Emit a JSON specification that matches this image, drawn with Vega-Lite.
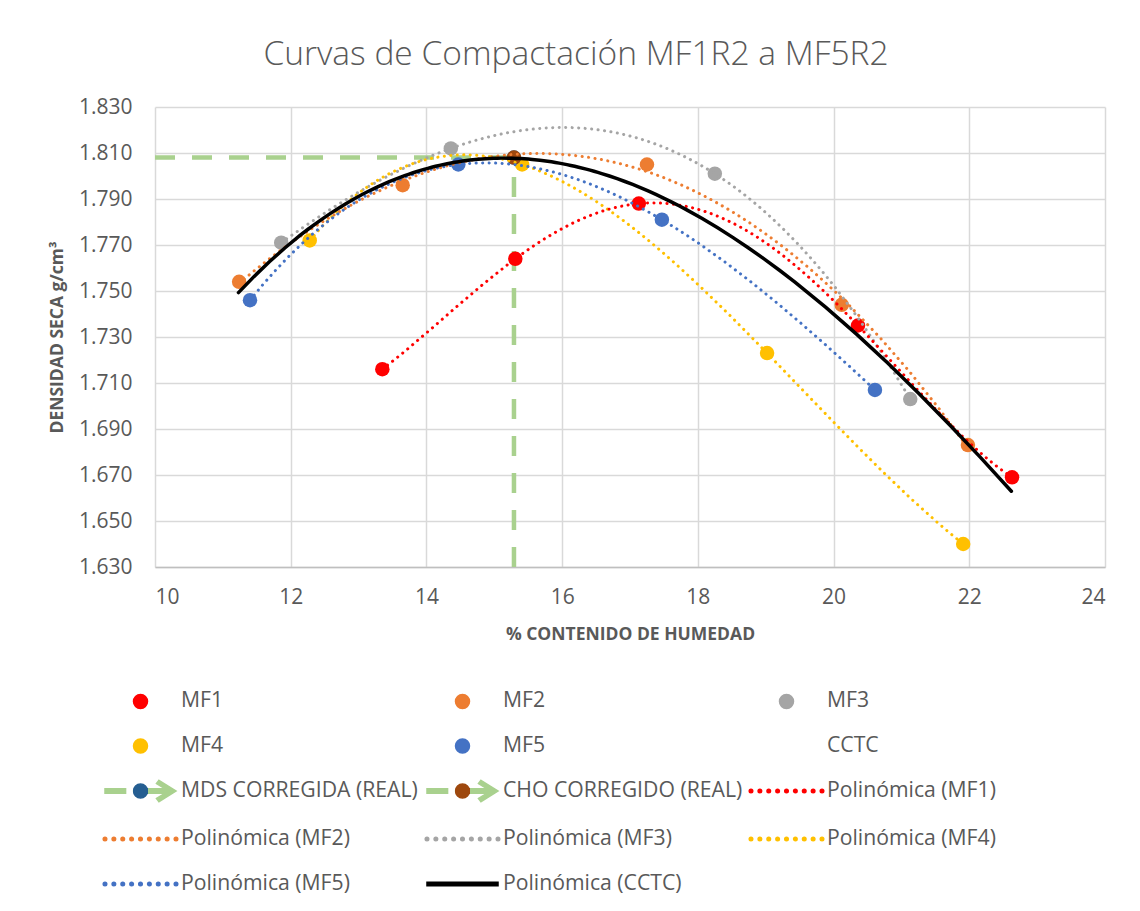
{
  "$schema": "https://vega.github.io/schema/vega-lite/v6.json",
  "width": 950,
  "height": 460,
  "autosize": "none",
  "padding": {"left": 155, "top": 107, "right": 35, "bottom": 344},
  "background": "white",
  "title": {"text": "Curvas de Compactación MF1R2 a MF5R2", "anchor": "middle", "frame": "group", "dx": -54, "offset": 24, "font": "Open Sans", "fontSize": 33.5, "fontWeight": 300, "color": "#595959"},
  "datasets": {
    "obs": [
      {"series": "MF1", "trend": "Polinómica (MF1)", "x": 13.35, "y": 1.716},
      {"series": "MF1", "trend": "Polinómica (MF1)", "x": 15.31, "y": 1.764},
      {"series": "MF1", "trend": "Polinómica (MF1)", "x": 17.13, "y": 1.788},
      {"series": "MF1", "trend": "Polinómica (MF1)", "x": 20.36, "y": 1.735},
      {"series": "MF1", "trend": "Polinómica (MF1)", "x": 22.63, "y": 1.669},
      {"series": "MF2", "trend": "Polinómica (MF2)", "x": 11.24, "y": 1.754},
      {"series": "MF2", "trend": "Polinómica (MF2)", "x": 13.65, "y": 1.796},
      {"series": "MF2", "trend": "Polinómica (MF2)", "x": 17.25, "y": 1.805},
      {"series": "MF2", "trend": "Polinómica (MF2)", "x": 20.12, "y": 1.744},
      {"series": "MF2", "trend": "Polinómica (MF2)", "x": 21.98, "y": 1.683},
      {"series": "MF3", "trend": "Polinómica (MF3)", "x": 11.86, "y": 1.771},
      {"series": "MF3", "trend": "Polinómica (MF3)", "x": 14.36, "y": 1.812},
      {"series": "MF3", "trend": "Polinómica (MF3)", "x": 18.25, "y": 1.801},
      {"series": "MF3", "trend": "Polinómica (MF3)", "x": 21.13, "y": 1.703},
      {"series": "MF4", "trend": "Polinómica (MF4)", "x": 12.28, "y": 1.772},
      {"series": "MF4", "trend": "Polinómica (MF4)", "x": 15.41, "y": 1.805},
      {"series": "MF4", "trend": "Polinómica (MF4)", "x": 19.02, "y": 1.723},
      {"series": "MF4", "trend": "Polinómica (MF4)", "x": 21.91, "y": 1.640},
      {"series": "MF5", "trend": "Polinómica (MF5)", "x": 11.40, "y": 1.746},
      {"series": "MF5", "trend": "Polinómica (MF5)", "x": 14.47, "y": 1.805},
      {"series": "MF5", "trend": "Polinómica (MF5)", "x": 17.47, "y": 1.781},
      {"series": "MF5", "trend": "Polinómica (MF5)", "x": 20.61, "y": 1.707}
    ],
    "ref": [
      {"series": "MDS CORREGIDA (REAL)", "x": 15.29, "y": 1.808},
      {"series": "CHO CORREGIDO (REAL)", "x": 15.29, "y": 1.808}
    ],
    "guides": [
      {"g": "MDS", "x": 10, "y": 1.808},
      {"g": "MDS", "x": 15.29, "y": 1.808},
      {"g": "CHO", "x": 15.29, "y": 1.63},
      {"g": "CHO", "x": 15.29, "y": 1.808}
    ],
    "cctc": [
      {"trend": "Polinómica (CCTC)", "x": 11.23, "y": 1.7475},
      {"trend": "Polinómica (CCTC)", "x": 12.0, "y": 1.7730},
      {"trend": "Polinómica (CCTC)", "x": 12.63, "y": 1.7860},
      {"trend": "Polinómica (CCTC)", "x": 13.32, "y": 1.7950},
      {"trend": "Polinómica (CCTC)", "x": 13.99, "y": 1.8019},
      {"trend": "Polinómica (CCTC)", "x": 14.54, "y": 1.8062},
      {"trend": "Polinómica (CCTC)", "x": 15.28, "y": 1.8084},
      {"trend": "Polinómica (CCTC)", "x": 15.99, "y": 1.8065},
      {"trend": "Polinómica (CCTC)", "x": 16.75, "y": 1.7990},
      {"trend": "Polinómica (CCTC)", "x": 17.98, "y": 1.7815},
      {"trend": "Polinómica (CCTC)", "x": 19.21, "y": 1.7580},
      {"trend": "Polinómica (CCTC)", "x": 20.0, "y": 1.7403},
      {"trend": "Polinómica (CCTC)", "x": 20.98, "y": 1.7159},
      {"trend": "Polinómica (CCTC)", "x": 21.99, "y": 1.6830},
      {"trend": "Polinómica (CCTC)", "x": 22.62, "y": 1.6620}
    ]
  },
  "encoding": {
    "x": {"field": "x", "type": "quantitative", "scale": {"domain": [10, 24], "nice": false, "zero": false},
      "axis": {"values": [10, 12, 14, 16, 18, 20, 22, 24], "title": "% CONTENIDO DE HUMEDAD"}},
    "y": {"field": "y", "type": "quantitative", "scale": {"domain": [1.63, 1.83], "nice": false, "zero": false},
      "axis": {"values": [1.63, 1.65, 1.67, 1.69, 1.71, 1.73, 1.75, 1.77, 1.79, 1.81, 1.83], "format": ".3f", "title": "DENSIDAD SECA g/cm³"}}
  },
  "layer": [
    {
      "data": {"name": "guides"},
      "mark": {"type": "line", "color": "#A9D18E", "strokeWidth": 4.5, "strokeDash": [20, 17], "clip": true},
      "encoding": {"detail": {"field": "g"}}
    },
    {
      "data": {"name": "ref"},
      "mark": {"type": "point", "filled": true, "opacity": 0, "size": 10},
      "encoding": {
        "color": {"field": "series", "type": "nominal",
          "scale": {"domain": ["MF1","MF2","MF3","MF4","MF5","CCTC","MDS CORREGIDA (REAL)","CHO CORREGIDO (REAL)","Polinómica (MF1)","Polinómica (MF2)","Polinómica (MF3)","Polinómica (MF4)","Polinómica (MF5)","Polinómica (CCTC)"],
            "range": ["#FF0000","#ED7D31","#A5A5A5","#FFC000","#4472C4","transparent",
              {"expr": "{gradient: 'linear', x1: 0, y1: 0, x2: 1, y2: 0, stops: [{offset: 0, color: '#A9D18E'}, {offset: 0.4, color: '#A9D18E'}, {offset: 0.4, color: '#255E91'}, {offset: 0.6, color: '#255E91'}, {offset: 0.6, color: '#A9D18E'}, {offset: 1, color: '#A9D18E'}]}"},
              {"expr": "{gradient: 'linear', x1: 0, y1: 0, x2: 1, y2: 0, stops: [{offset: 0, color: '#A9D18E'}, {offset: 0.4, color: '#A9D18E'}, {offset: 0.4, color: '#9E480E'}, {offset: 0.6, color: '#9E480E'}, {offset: 0.6, color: '#A9D18E'}, {offset: 1, color: '#A9D18E'}]}"},
              "#FF0000","#ED7D31","#A5A5A5","#FFC000","#4472C4","#000000"]},
          "legend": {
            "title": null, "orient": "none", "direction": "horizontal", "legendX": -48.5, "legendY": 560, "columns": 3, "gridAlign": "each",
            "columnPadding": 3, "rowPadding": 0, "padding": 0, "symbolSize": 4356, "labelOffset": 6.5, "symbolOpacity": 1,
            "labelFont": "Open Sans", "labelFontSize": 21.2, "labelColor": "#595959", "labelLimit": 500
          }
        },
        "shape": {"field": "series", "type": "nominal",
          "scale": {"domain": ["MF1","MF2","MF3","MF4","MF5","CCTC","MDS CORREGIDA (REAL)","CHO CORREGIDO (REAL)","Polinómica (MF1)","Polinómica (MF2)","Polinómica (MF3)","Polinómica (MF4)","Polinómica (MF5)","Polinómica (CCTC)"],
            "range": [
              "M0.212,0C0.212,0.117,0.117,0.212,0,0.212C-0.117,0.212,-0.212,0.117,-0.212,0C-0.212,-0.117,-0.117,-0.212,0,-0.212C0.117,-0.212,0.212,-0.117,0.212,0Z",
              "M0.212,0C0.212,0.117,0.117,0.212,0,0.212C-0.117,0.212,-0.212,0.117,-0.212,0C-0.212,-0.117,-0.117,-0.212,0,-0.212C0.117,-0.212,0.212,-0.117,0.212,0Z",
              "M0.212,0C0.212,0.117,0.117,0.212,0,0.212C-0.117,0.212,-0.212,0.117,-0.212,0C-0.212,-0.117,-0.117,-0.212,0,-0.212C0.117,-0.212,0.212,-0.117,0.212,0Z",
              "M0.212,0C0.212,0.117,0.117,0.212,0,0.212C-0.117,0.212,-0.212,0.117,-0.212,0C-0.212,-0.117,-0.117,-0.212,0,-0.212C0.117,-0.212,0.212,-0.117,0.212,0Z",
              "M0.212,0C0.212,0.117,0.117,0.212,0,0.212C-0.117,0.212,-0.212,0.117,-0.212,0C-0.212,-0.117,-0.117,-0.212,0,-0.212C0.117,-0.212,0.212,-0.117,0.212,0Z",
              "M0,0L0.001,0Z",
              "M-1.076,-0.065H-0.452V0.065H-1.076ZM0.212,0C0.212,0.117,0.117,0.212,0,0.212C-0.117,0.212,-0.212,0.117,-0.212,0C-0.212,-0.117,-0.117,-0.212,0,-0.212C0.117,-0.212,0.212,-0.117,0.212,0ZM0.204,-0.065H0.861V0.065H0.204ZM0.559,-0.323L1.076,0L0.559,0.323L0.484,0.226L0.861,0L0.484,-0.226Z",
              "M-1.076,-0.065H-0.452V0.065H-1.076ZM0.212,0C0.212,0.117,0.117,0.212,0,0.212C-0.117,0.212,-0.212,0.117,-0.212,0C-0.212,-0.117,-0.117,-0.212,0,-0.212C0.117,-0.212,0.212,-0.117,0.212,0ZM0.204,-0.065H0.861V0.065H0.204ZM0.559,-0.323L1.076,0L0.559,0.323L0.484,0.226L0.861,0L0.484,-0.226Z",
              "M-1.022,0c0,0.0297,-0.0242,0.054,-0.054,0.054c-0.0297,0,-0.054,-0.0242,-0.054,-0.054c0,-0.0297,0.0242,-0.054,0.054,-0.054c0.0297,0,0.054,0.0242,0.054,0.054ZM-0.753,0c0,0.0297,-0.0242,0.054,-0.054,0.054c-0.0297,0,-0.054,-0.0242,-0.054,-0.054c0,-0.0297,0.0242,-0.054,0.054,-0.054c0.0297,0,0.054,0.0242,0.054,0.054ZM-0.484,0c0,0.0297,-0.0242,0.054,-0.054,0.054c-0.0297,0,-0.054,-0.0242,-0.054,-0.054c0,-0.0297,0.0242,-0.054,0.054,-0.054c0.0297,0,0.054,0.0242,0.054,0.054ZM-0.215,0c0,0.0297,-0.0242,0.054,-0.054,0.054c-0.0297,0,-0.054,-0.0242,-0.054,-0.054c0,-0.0297,0.0242,-0.054,0.054,-0.054c0.0297,0,0.054,0.0242,0.054,0.054ZM0.054,0c0,0.0297,-0.0242,0.054,-0.054,0.054c-0.0297,0,-0.054,-0.0242,-0.054,-0.054c0,-0.0297,0.0242,-0.054,0.054,-0.054c0.0297,0,0.054,0.0242,0.054,0.054ZM0.323,0c0,0.0297,-0.0242,0.054,-0.054,0.054c-0.0297,0,-0.054,-0.0242,-0.054,-0.054c0,-0.0297,0.0242,-0.054,0.054,-0.054c0.0297,0,0.054,0.0242,0.054,0.054ZM0.592,0c0,0.0297,-0.0242,0.054,-0.054,0.054c-0.0297,0,-0.054,-0.0242,-0.054,-0.054c0,-0.0297,0.0242,-0.054,0.054,-0.054c0.0297,0,0.054,0.0242,0.054,0.054ZM0.861,0c0,0.0297,-0.0242,0.054,-0.054,0.054c-0.0297,0,-0.054,-0.0242,-0.054,-0.054c0,-0.0297,0.0242,-0.054,0.054,-0.054c0.0297,0,0.054,0.0242,0.054,0.054ZM1.13,0c0,0.0297,-0.0242,0.054,-0.054,0.054c-0.0297,0,-0.054,-0.0242,-0.054,-0.054c0,-0.0297,0.0242,-0.054,0.054,-0.054c0.0297,0,0.054,0.0242,0.054,0.054Z",
              "M-1.022,0c0,0.0297,-0.0242,0.054,-0.054,0.054c-0.0297,0,-0.054,-0.0242,-0.054,-0.054c0,-0.0297,0.0242,-0.054,0.054,-0.054c0.0297,0,0.054,0.0242,0.054,0.054ZM-0.753,0c0,0.0297,-0.0242,0.054,-0.054,0.054c-0.0297,0,-0.054,-0.0242,-0.054,-0.054c0,-0.0297,0.0242,-0.054,0.054,-0.054c0.0297,0,0.054,0.0242,0.054,0.054ZM-0.484,0c0,0.0297,-0.0242,0.054,-0.054,0.054c-0.0297,0,-0.054,-0.0242,-0.054,-0.054c0,-0.0297,0.0242,-0.054,0.054,-0.054c0.0297,0,0.054,0.0242,0.054,0.054ZM-0.215,0c0,0.0297,-0.0242,0.054,-0.054,0.054c-0.0297,0,-0.054,-0.0242,-0.054,-0.054c0,-0.0297,0.0242,-0.054,0.054,-0.054c0.0297,0,0.054,0.0242,0.054,0.054ZM0.054,0c0,0.0297,-0.0242,0.054,-0.054,0.054c-0.0297,0,-0.054,-0.0242,-0.054,-0.054c0,-0.0297,0.0242,-0.054,0.054,-0.054c0.0297,0,0.054,0.0242,0.054,0.054ZM0.323,0c0,0.0297,-0.0242,0.054,-0.054,0.054c-0.0297,0,-0.054,-0.0242,-0.054,-0.054c0,-0.0297,0.0242,-0.054,0.054,-0.054c0.0297,0,0.054,0.0242,0.054,0.054ZM0.592,0c0,0.0297,-0.0242,0.054,-0.054,0.054c-0.0297,0,-0.054,-0.0242,-0.054,-0.054c0,-0.0297,0.0242,-0.054,0.054,-0.054c0.0297,0,0.054,0.0242,0.054,0.054ZM0.861,0c0,0.0297,-0.0242,0.054,-0.054,0.054c-0.0297,0,-0.054,-0.0242,-0.054,-0.054c0,-0.0297,0.0242,-0.054,0.054,-0.054c0.0297,0,0.054,0.0242,0.054,0.054ZM1.13,0c0,0.0297,-0.0242,0.054,-0.054,0.054c-0.0297,0,-0.054,-0.0242,-0.054,-0.054c0,-0.0297,0.0242,-0.054,0.054,-0.054c0.0297,0,0.054,0.0242,0.054,0.054Z",
              "M-1.022,0c0,0.0297,-0.0242,0.054,-0.054,0.054c-0.0297,0,-0.054,-0.0242,-0.054,-0.054c0,-0.0297,0.0242,-0.054,0.054,-0.054c0.0297,0,0.054,0.0242,0.054,0.054ZM-0.753,0c0,0.0297,-0.0242,0.054,-0.054,0.054c-0.0297,0,-0.054,-0.0242,-0.054,-0.054c0,-0.0297,0.0242,-0.054,0.054,-0.054c0.0297,0,0.054,0.0242,0.054,0.054ZM-0.484,0c0,0.0297,-0.0242,0.054,-0.054,0.054c-0.0297,0,-0.054,-0.0242,-0.054,-0.054c0,-0.0297,0.0242,-0.054,0.054,-0.054c0.0297,0,0.054,0.0242,0.054,0.054ZM-0.215,0c0,0.0297,-0.0242,0.054,-0.054,0.054c-0.0297,0,-0.054,-0.0242,-0.054,-0.054c0,-0.0297,0.0242,-0.054,0.054,-0.054c0.0297,0,0.054,0.0242,0.054,0.054ZM0.054,0c0,0.0297,-0.0242,0.054,-0.054,0.054c-0.0297,0,-0.054,-0.0242,-0.054,-0.054c0,-0.0297,0.0242,-0.054,0.054,-0.054c0.0297,0,0.054,0.0242,0.054,0.054ZM0.323,0c0,0.0297,-0.0242,0.054,-0.054,0.054c-0.0297,0,-0.054,-0.0242,-0.054,-0.054c0,-0.0297,0.0242,-0.054,0.054,-0.054c0.0297,0,0.054,0.0242,0.054,0.054ZM0.592,0c0,0.0297,-0.0242,0.054,-0.054,0.054c-0.0297,0,-0.054,-0.0242,-0.054,-0.054c0,-0.0297,0.0242,-0.054,0.054,-0.054c0.0297,0,0.054,0.0242,0.054,0.054ZM0.861,0c0,0.0297,-0.0242,0.054,-0.054,0.054c-0.0297,0,-0.054,-0.0242,-0.054,-0.054c0,-0.0297,0.0242,-0.054,0.054,-0.054c0.0297,0,0.054,0.0242,0.054,0.054ZM1.13,0c0,0.0297,-0.0242,0.054,-0.054,0.054c-0.0297,0,-0.054,-0.0242,-0.054,-0.054c0,-0.0297,0.0242,-0.054,0.054,-0.054c0.0297,0,0.054,0.0242,0.054,0.054Z",
              "M-1.022,0c0,0.0297,-0.0242,0.054,-0.054,0.054c-0.0297,0,-0.054,-0.0242,-0.054,-0.054c0,-0.0297,0.0242,-0.054,0.054,-0.054c0.0297,0,0.054,0.0242,0.054,0.054ZM-0.753,0c0,0.0297,-0.0242,0.054,-0.054,0.054c-0.0297,0,-0.054,-0.0242,-0.054,-0.054c0,-0.0297,0.0242,-0.054,0.054,-0.054c0.0297,0,0.054,0.0242,0.054,0.054ZM-0.484,0c0,0.0297,-0.0242,0.054,-0.054,0.054c-0.0297,0,-0.054,-0.0242,-0.054,-0.054c0,-0.0297,0.0242,-0.054,0.054,-0.054c0.0297,0,0.054,0.0242,0.054,0.054ZM-0.215,0c0,0.0297,-0.0242,0.054,-0.054,0.054c-0.0297,0,-0.054,-0.0242,-0.054,-0.054c0,-0.0297,0.0242,-0.054,0.054,-0.054c0.0297,0,0.054,0.0242,0.054,0.054ZM0.054,0c0,0.0297,-0.0242,0.054,-0.054,0.054c-0.0297,0,-0.054,-0.0242,-0.054,-0.054c0,-0.0297,0.0242,-0.054,0.054,-0.054c0.0297,0,0.054,0.0242,0.054,0.054ZM0.323,0c0,0.0297,-0.0242,0.054,-0.054,0.054c-0.0297,0,-0.054,-0.0242,-0.054,-0.054c0,-0.0297,0.0242,-0.054,0.054,-0.054c0.0297,0,0.054,0.0242,0.054,0.054ZM0.592,0c0,0.0297,-0.0242,0.054,-0.054,0.054c-0.0297,0,-0.054,-0.0242,-0.054,-0.054c0,-0.0297,0.0242,-0.054,0.054,-0.054c0.0297,0,0.054,0.0242,0.054,0.054ZM0.861,0c0,0.0297,-0.0242,0.054,-0.054,0.054c-0.0297,0,-0.054,-0.0242,-0.054,-0.054c0,-0.0297,0.0242,-0.054,0.054,-0.054c0.0297,0,0.054,0.0242,0.054,0.054ZM1.13,0c0,0.0297,-0.0242,0.054,-0.054,0.054c-0.0297,0,-0.054,-0.0242,-0.054,-0.054c0,-0.0297,0.0242,-0.054,0.054,-0.054c0.0297,0,0.054,0.0242,0.054,0.054Z",
              "M-1.022,0c0,0.0297,-0.0242,0.054,-0.054,0.054c-0.0297,0,-0.054,-0.0242,-0.054,-0.054c0,-0.0297,0.0242,-0.054,0.054,-0.054c0.0297,0,0.054,0.0242,0.054,0.054ZM-0.753,0c0,0.0297,-0.0242,0.054,-0.054,0.054c-0.0297,0,-0.054,-0.0242,-0.054,-0.054c0,-0.0297,0.0242,-0.054,0.054,-0.054c0.0297,0,0.054,0.0242,0.054,0.054ZM-0.484,0c0,0.0297,-0.0242,0.054,-0.054,0.054c-0.0297,0,-0.054,-0.0242,-0.054,-0.054c0,-0.0297,0.0242,-0.054,0.054,-0.054c0.0297,0,0.054,0.0242,0.054,0.054ZM-0.215,0c0,0.0297,-0.0242,0.054,-0.054,0.054c-0.0297,0,-0.054,-0.0242,-0.054,-0.054c0,-0.0297,0.0242,-0.054,0.054,-0.054c0.0297,0,0.054,0.0242,0.054,0.054ZM0.054,0c0,0.0297,-0.0242,0.054,-0.054,0.054c-0.0297,0,-0.054,-0.0242,-0.054,-0.054c0,-0.0297,0.0242,-0.054,0.054,-0.054c0.0297,0,0.054,0.0242,0.054,0.054ZM0.323,0c0,0.0297,-0.0242,0.054,-0.054,0.054c-0.0297,0,-0.054,-0.0242,-0.054,-0.054c0,-0.0297,0.0242,-0.054,0.054,-0.054c0.0297,0,0.054,0.0242,0.054,0.054ZM0.592,0c0,0.0297,-0.0242,0.054,-0.054,0.054c-0.0297,0,-0.054,-0.0242,-0.054,-0.054c0,-0.0297,0.0242,-0.054,0.054,-0.054c0.0297,0,0.054,0.0242,0.054,0.054ZM0.861,0c0,0.0297,-0.0242,0.054,-0.054,0.054c-0.0297,0,-0.054,-0.0242,-0.054,-0.054c0,-0.0297,0.0242,-0.054,0.054,-0.054c0.0297,0,0.054,0.0242,0.054,0.054ZM1.13,0c0,0.0297,-0.0242,0.054,-0.054,0.054c-0.0297,0,-0.054,-0.0242,-0.054,-0.054c0,-0.0297,0.0242,-0.054,0.054,-0.054c0.0297,0,0.054,0.0242,0.054,0.054Z",
              "M-1.076,-0.054H1.076V0.054H-1.076Z"
            ]},
          "legend": {
            "title": null, "orient": "none", "direction": "horizontal", "legendX": -48.5, "legendY": 560, "columns": 3, "gridAlign": "each",
            "columnPadding": 3, "rowPadding": 0, "padding": 0, "symbolSize": 4356, "labelOffset": 6.5, "symbolOpacity": 1,
            "labelFont": "Open Sans", "labelFontSize": 21.2, "labelColor": "#595959", "labelLimit": 500
          }
        }
      }
    },
    {
      "data": {"name": "obs"},
      "mark": {"type": "point", "shape": "circle", "filled": true, "size": 210, "opacity": 1},
      "encoding": {
        "color": {"field": "series", "type": "nominal", "legend": null}
      }
    },
    {
      "data": {"name": "ref"},
      "mark": {"type": "point", "shape": "circle", "filled": true, "size": 210, "opacity": 1},
      "encoding": {
        "fill": {"field": "series", "type": "nominal",
          "scale": {"domain": ["MDS CORREGIDA (REAL)", "CHO CORREGIDO (REAL)"], "range": ["#255E91", "#9E480E"]},
          "legend": null}
      }
    },
    {
      "data": {"name": "obs"},
      "transform": [
        {"filter": "datum.series !== 'MF1'"},
        {"regression": "y", "on": "x", "method": "poly", "order": 3, "groupby": ["trend"]}
      ],
      "mark": {"type": "line", "strokeWidth": 3, "strokeCap": "round", "strokeDash": [0.1, 6.4]},
      "encoding": {"color": {"field": "trend", "type": "nominal", "legend": null}}
    },
    {
      "data": {"name": "obs"},
      "transform": [
        {"filter": "datum.series === 'MF1'"},
        {"regression": "y", "on": "x", "method": "poly", "order": 4, "groupby": ["trend"]}
      ],
      "mark": {"type": "line", "strokeWidth": 3, "strokeCap": "round", "strokeDash": [0.1, 6.4]},
      "encoding": {"color": {"field": "trend", "type": "nominal", "legend": null}}
    },
    {
      "data": {"name": "cctc"},
      "transform": [{"regression": "y", "on": "x", "method": "poly", "order": 3, "groupby": ["trend"]}],
      "mark": {"type": "line", "strokeWidth": 3.5, "strokeCap": "round"},
      "encoding": {"color": {"field": "trend", "type": "nominal", "legend": null}}
    }
  ],
  "config": {
    "view": {"stroke": null},
    "axis": {"grid": true, "gridColor": "#D9D9D9", "gridWidth": 1.5, "ticks": false, "domain": false,
      "labelFont": "Open Sans", "labelFontSize": 21, "labelColor": "#595959",
      "titleFont": "Open Sans", "titleFontWeight": "bold", "titleFontSize": 17.5, "titleColor": "#595959"},
    "axisX": {"domain": true, "domainColor": "#BFBFBF", "domainWidth": 1.5, "labelPadding": 19, "titlePadding": 18},
    "axisY": {"labelPadding": 23, "titlePadding": 12}
  }
}
